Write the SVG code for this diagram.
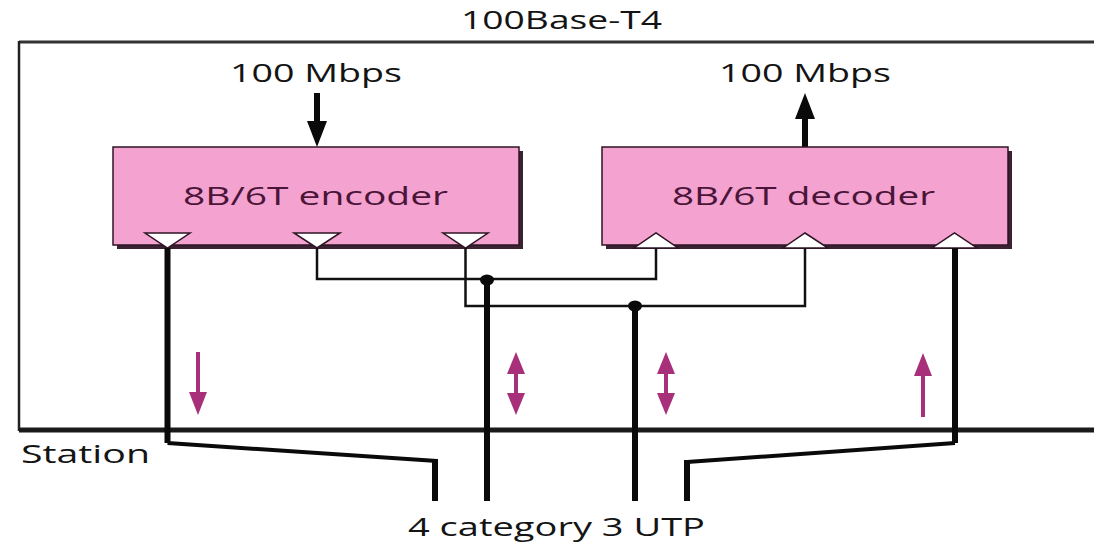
<svg xmlns="http://www.w3.org/2000/svg" width="1094" height="549" viewBox="0 0 1094 549">
<defs>
<style>
text{font-family:"Open Sans","Liberation Sans",sans-serif;fill:#141414}
.lbl{font-size:26px}
.box{fill:#f4a2cf;stroke:#2e1424;stroke-width:1.5}
.shadow{fill:#3a2232}
.btxt{font-size:26px;fill:#4a1538}
.tri{fill:#ffffff;stroke:#2e1424;stroke-width:1.5}
.thin{fill:none;stroke:#111;stroke-width:2.5}
.thick{fill:none;stroke:#0a0a0a;stroke-width:6;stroke-linejoin:miter}
.mid{fill:none;stroke:#0a0a0a;stroke-width:4}
.pk{fill:#a8307a}
.blk{fill:#0a0a0a}
</style>
</defs>
<rect width="1094" height="549" fill="#ffffff"/>

<g id="frame">
<line x1="19" y1="42" x2="1094" y2="42" stroke="#333" stroke-width="3"/>
<line x1="19" y1="41" x2="19" y2="431" stroke="#222" stroke-width="2.5"/>
<line x1="19" y1="430" x2="1094" y2="430" stroke="#1a1a1a" stroke-width="5"/>
<text class="lbl" x="461" y="29" textLength="201" lengthAdjust="spacingAndGlyphs">100Base-T4</text>
<text class="lbl" x="21" y="463" textLength="129" lengthAdjust="spacingAndGlyphs">Station</text>
<text class="lbl" x="408" y="536" textLength="297" lengthAdjust="spacingAndGlyphs">4 category 3 UTP</text>
</g>

<g id="input">
<text class="lbl" x="230" y="82" textLength="172" lengthAdjust="spacingAndGlyphs">100 Mbps</text>
<rect class="blk" x="314" y="93" width="6" height="32"/>
<polygon class="blk" points="307,121 327,121 317,147"/>
</g>

<g id="output">
<text class="lbl" x="719" y="82" textLength="172" lengthAdjust="spacingAndGlyphs">100 Mbps</text>
<rect class="blk" x="802" y="115" width="6" height="32"/>
<polygon class="blk" points="795,119 815,119 805,93"/>
</g>

<g id="encoder">
<rect class="shadow" x="117" y="151" width="406" height="98"/>
<rect class="box" x="113" y="147" width="406" height="98"/>
<text class="btxt" x="183" y="205" textLength="265" lengthAdjust="spacingAndGlyphs">8B/6T encoder</text>
<polygon class="tri" points="145,233 190,233 167.5,248"/>
<polygon class="tri" points="294,233 340,233 317,248"/>
<polygon class="tri" points="443,233 488,233 465.5,248"/>
</g>

<g id="decoder">
<rect class="shadow" x="606" y="151" width="406" height="98"/>
<rect class="box" x="602" y="147" width="406" height="98"/>
<text class="btxt" x="672" y="205" textLength="263" lengthAdjust="spacingAndGlyphs">8B/6T decoder</text>
<polygon class="tri" points="634,248 678,248 656,233"/>
<polygon class="tri" points="783,248 828,248 805,233"/>
<polygon class="tri" points="932,248 977,248 954.5,233"/>
</g>

<g id="connectors">
<polyline class="thin" points="317,248 317,279 656,279 656,248"/>
<polyline class="thin" points="465.5,248 465.5,306 805,306 805,248"/>
<line class="thick" x1="487" y1="279" x2="487" y2="501"/>
<line class="thick" x1="635" y1="306" x2="635" y2="501"/>
<ellipse class="blk" cx="487" cy="280" rx="7" ry="5.5"/>
<ellipse class="blk" cx="635" cy="306" rx="7" ry="5.5"/>
<polyline class="thick" points="167.5,248 167.5,443"/>
<polyline class="mid" points="167.5,443 437,461"/>
<polyline class="thick" points="435,459 435,501"/>
<polyline class="thick" points="955,248 955,443"/>
<polyline class="mid" points="955,443 687,462"/>
<polyline class="thick" points="687,460 687,501"/>
</g>

<g id="directions">
<rect class="pk" x="196" y="352" width="4" height="45"/>
<polygon class="pk" points="189,392 207,392 198,415"/>
<rect class="pk" x="514" y="368" width="4" height="32"/>
<polygon class="pk" points="507,374 525,374 516,352"/>
<polygon class="pk" points="507,393 525,393 516,415"/>
<rect class="pk" x="664" y="368" width="4" height="32"/>
<polygon class="pk" points="657,374 675,374 666,352"/>
<polygon class="pk" points="657,393 675,393 666,415"/>
<rect class="pk" x="921" y="370" width="4" height="47"/>
<polygon class="pk" points="914,376 932,376 923,353"/>
</g>
</svg>
